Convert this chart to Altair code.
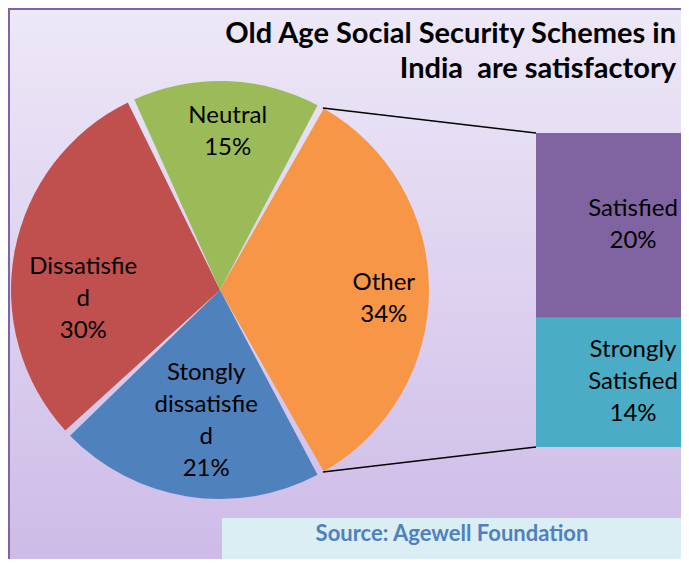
import math
import altair as alt
import pandas as pd

# ---------------- data ----------------
pie_categories = ["Other", "Stongly\ndissatisfie\nd", "Dissatisfie\nd", "Neutral"]
pie_values = [34, 21, 30, 15]
pie_colors = ["#F79646", "#4F81BD", "#C0504D", "#9BBB59"]

bar_categories = ["Strongly\nSatisfied", "Satisfied"]
bar_values = [14, 20]
bar_colors = ["#4BACC6", "#8064A2"]

title_text = "Old Age Social Security Schemes in\nIndia\u00a0 are satisfactory"
source_text = "Source: Agewell Foundation"

# ---------------- layout ----------------
W, H = 673, 551
CX, CY, R = 212, 282, 209
BAR_X0, BAR_X1 = 528, 700
BAR_TOP, BAR_BOT = 125, 439
FONT = "Lato"
LH = 32

total = sum(pie_values)
start = math.pi / 2 - math.pi * pie_values[0] / total
theta_scale = alt.Scale(range=[start, start + 2 * math.pi])

pie_labels = [f"{c}\n{v}%" for c, v in zip(pie_categories, pie_values)]
pie_df = pd.DataFrame({
    "cat": pie_categories,
    "value": pie_values,
    "ord": list(range(len(pie_values))),
    "label": pie_labels,
    "nl": [s.count("\n") + 1 for s in pie_labels],
})

bar_labels = [f"{c}\n{v}%" for c, v in zip(bar_categories, bar_values)]
bar_df = pd.DataFrame({
    "cat": bar_categories,
    "value": bar_values,
    "ord": list(range(len(bar_values))),
    "label": bar_labels,
    "nl": [s.count("\n") + 1 for s in bar_labels],
})
bar_total = sum(bar_values)
BAR_PX = (BAR_BOT - BAR_TOP) / bar_total
bar_scale = alt.Scale(domain=[0, bar_total], range=[BAR_BOT, BAR_TOP], nice=False, zero=False)

# connector lines from the "Other" slice edges to the bar corners
a0 = start
a1 = start + 2 * math.pi * pie_values[0] / total
pad = 2.5 / R
conn_df = pd.DataFrame({
    "x": [CX + R * math.sin(a0 + pad), CX + R * math.sin(a1 - pad)],
    "y": [CY - R * math.cos(a0 + pad), CY - R * math.cos(a1 - pad)],
    "x2": [BAR_X0, BAR_X0],
    "y2": [BAR_TOP, BAR_BOT],
})

one = pd.DataFrame({"a": [0]})

# ---------------- background ----------------
grad = alt.LinearGradient(
    gradient="linear",
    stops=[alt.GradientStop(color="#ede8f7", offset=0),
           alt.GradientStop(color="#cbb8e6", offset=1)],
    x1=0, x2=0, y1=0, y2=1,
)
bg = alt.Chart(one).mark_rect(color=grad, stroke="#8064A2", strokeWidth=2).encode(
    x=alt.value(1), x2=alt.value(720), y=alt.value(1), y2=alt.value(595)
)

# ---------------- pie ----------------
arc = alt.Chart(pie_df).mark_arc(radius=R, padAngle=0.034).encode(
    theta=alt.Theta("value:Q", stack=True, scale=theta_scale),
    color=alt.Color("cat:N", scale=alt.Scale(domain=pie_categories, range=pie_colors), legend=None),
    order=alt.Order("ord:Q"),
    x=alt.value(CX), y=alt.value(CY),
)

# label placement inside each slice (radius and small angular nudge, in degrees)
pie_text = alt.Chart(pie_df).transform_window(
    cum="sum(value)", sort=[alt.SortField("ord")], frame=[None, 0]
).transform_calculate(
    lr="datum.ord == 0 ? 164 : datum.ord == 1 ? 132 : datum.ord == 2 ? 137 : 158",
    da="datum.ord == 0 ? 3 : datum.ord == 1 ? -3 : datum.ord == 2 ? -14.5 : 1",
    mid=f"{start} + 2 * PI * (datum.cum - datum.value / 2) / {total}",
).transform_calculate(
    ang="datum.mid + datum.da * PI / 180",
).transform_calculate(
    px=f"{CX} + datum.lr * sin(datum.ang)",
    py=f"{CY} - datum.lr * cos(datum.ang) - (datum.nl - 1) * {LH} / 2",
).mark_text(font=FONT, fontSize=24, lineHeight=LH, color="black", baseline="middle", lineBreak="\n").encode(
    x=alt.X("px:Q", scale=None),
    y=alt.Y("py:Q", scale=None),
    text="label:N",
)

# ---------------- bar ----------------
bar_base = alt.Chart(bar_df).transform_stack(
    stack="value", as_=["y0", "y1"], groupby=[], sort=[alt.SortField("ord")]
)
bar = bar_base.mark_rect().encode(
    x=alt.value(BAR_X0), x2=alt.value(BAR_X1),
    y=alt.Y("y0:Q", scale=bar_scale, axis=None),
    y2="y1:Q",
    color=alt.Color("cat:N", scale=alt.Scale(domain=bar_categories, range=bar_colors), legend=None),
)

bar_text = bar_base.transform_calculate(
    mid=f"(datum.y0 + datum.y1) / 2 + (datum.nl - 1) * {LH} / 2 / {BAR_PX}"
).mark_text(
    font=FONT, fontSize=24, lineHeight=LH, color="black", baseline="middle", lineBreak="\n"
).encode(
    x=alt.value(625),
    y=alt.Y("mid:Q", scale=bar_scale, axis=None),
    text="label:N",
)

conn = alt.Chart(conn_df).mark_rule(color="black", strokeWidth=1.5).encode(
    x=alt.X("x:Q", scale=None), y=alt.Y("y:Q", scale=None),
    x2="x2:Q", y2="y2:Q",
)

# ---------------- title & source ----------------
title = alt.Chart(one).mark_text(
    text=title_text, lineBreak="\n", font=FONT, fontSize=29, fontWeight="bold",
    align="right", baseline="middle", lineHeight=35, color="black",
).encode(x=alt.value(668), y=alt.value(26))

src_box = alt.Chart(one).mark_rect(color="#DAEEF3").encode(
    x=alt.value(214), x2=alt.value(676), y=alt.value(510), y2=alt.value(556)
)
src_text = alt.Chart(one).mark_text(
    text=source_text, font=FONT, fontSize=22, fontWeight="bold", color="#4F81BD",
    align="center", baseline="middle",
).encode(x=alt.value(444), y=alt.value(526))

chart = alt.layer(
    bg, arc, pie_text, conn, bar, bar_text, title, src_box, src_text
).resolve_scale(
    x="independent", y="independent", color="independent"
).properties(
    width=W, height=H, padding=0,
    autosize=alt.AutoSizeParams(type="fit", contains="padding"),
).configure_view(stroke=None).configure(background="white")

chart.save("out.html", embed_options={"renderer": "svg", "actions": False})
